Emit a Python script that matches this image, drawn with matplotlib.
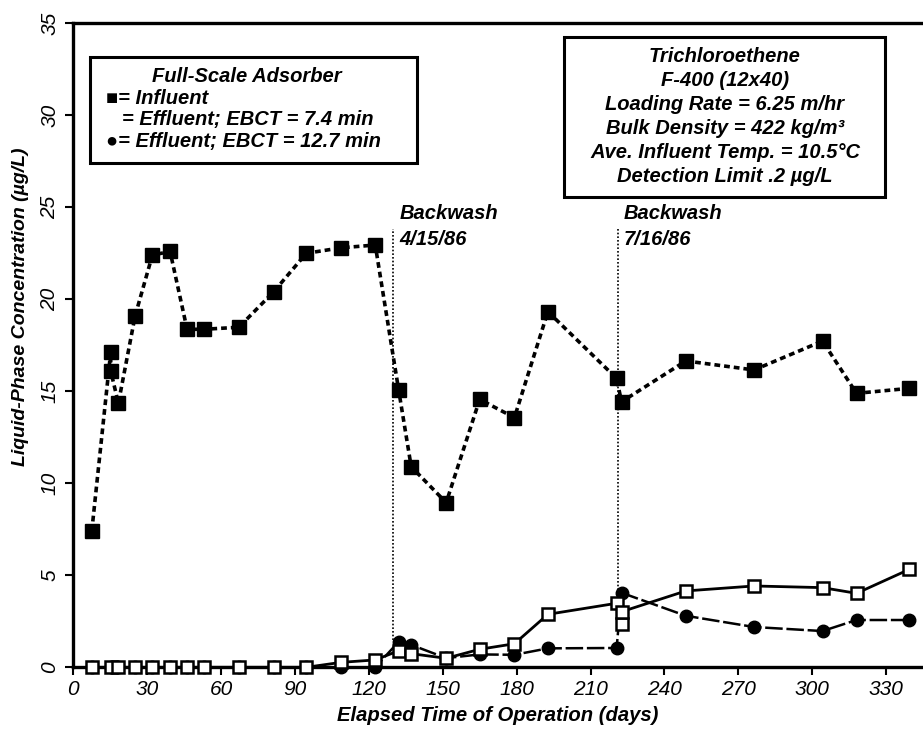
import numpy as np
import matplotlib
matplotlib.use("Agg")
import matplotlib.pyplot as plt
from matplotlib.patches import Rectangle

plt.rcParams['font.family'] = ['Liberation Sans', 'DejaVu Sans']
plt.rcParams['font.style'] = 'italic'

# influent (filled squares)
days_inf = [7.5, 15.2, 15.2, 18.3, 25.1, 32.1, 39.3, 46.2, 52.9, 67.2, 81.3, 94.6,
            108.8, 122.6, 132.1, 137.2, 151.4, 165.0, 179.1, 192.7, 220.6, 222.6,
            248.7, 276.4, 304.2, 318.0, 339.4]
influent = [7.4, 17.15, 16.1, 14.35, 19.1, 22.4, 22.6, 18.37, 18.37, 18.48, 20.4, 22.5,
            22.8, 22.95, 15.07, 10.9, 8.95, 14.56, 13.57, 19.33, 15.7, 14.43,
            16.65, 16.16, 17.73, 14.89, 15.16]

# effluent, EBCT = 7.4 min (open squares)
days_74 = [7.5, 15.2, 18.3, 25.1, 32.1, 39.3, 46.2, 52.9, 67.2, 81.3, 94.6, 108.8,
           122.6, 132.1, 137.2, 151.4, 165.0, 179.1, 192.7, 220.6, 222.6, 222.6,
           248.7, 276.4, 304.2, 318.0, 339.4]
eff_74 = [0, 0, 0, 0, 0, 0, 0, 0, 0, 0, 0, 0.27,
          0.4, 0.9, 0.74, 0.49, 0.98, 1.28, 2.88, 3.48, 2.35, 3.02,
          4.15, 4.42, 4.33, 4.02, 5.32]

# effluent, EBCT = 12.7 min (filled circles)
days_127 = [7.5, 15.2, 18.3, 25.1, 32.1, 39.3, 46.2, 52.9, 67.2, 81.3, 94.6, 108.8,
            122.6, 132.1, 137.2, 151.4, 165.0, 179.1, 192.7, 220.6, 222.6,
            248.7, 276.4, 304.2, 318.0, 339.4]
eff_127 = [0, 0, 0, 0, 0, 0, 0, 0, 0, 0, 0, 0,
           0, 1.39, 1.22, 0.5, 0.7, 0.68, 1.03, 1.05, 4.05,
           2.8, 2.19, 1.97, 2.57, 2.57]

backwash_days = [130, 221]
backwash_low = [1.5, 4.2]
backwash_text = ["Backwash\n4/15/86", "Backwash\n7/16/86"]

W, H = 923, 732
fig = plt.figure(figsize=(W / 100, H / 100), dpi=100)
ax = fig.add_axes([73.3 / W, 1 - 667.3 / H, 1 - 73.3 / W, (667.3 - 23.3) / H])

ax.plot(days_127, eff_127, color='black', lw=1.8, dashes=(7, 1.5),
        marker='o', ms=9, mfc='black', mec='black', clip_on=False, zorder=3)
ax.plot(days_74, eff_74, color='black', lw=2.0, ls='-',
        marker='s', ms=8.5, mfc='white', mec='black', mew=1.8, clip_on=False, zorder=4)
ax.plot(days_inf, influent, color='black', lw=2.6, dashes=(1.6, 1.1),
        marker='s', ms=10, mfc='black', mec='black', clip_on=False, zorder=5)

for d, lo, t in zip(backwash_days, backwash_low, backwash_text):
    ax.plot([d, d], [lo, 23.8], color='black', lw=1.2, ls=(0, (1, 1.2)), zorder=2)
    ax.text(d + 2.5, 25.2, t, fontsize=14.5, fontweight='bold', va='top', ha='left',
            linespacing=1.5)

ax.set_xlim(0, 345)
ax.set_ylim(0, 35)
ax.set_xticks(np.arange(0, 331, 30))
ax.set_yticks(np.arange(0, 36, 5))
ax.tick_params(axis='both', direction='out', length=6, width=1.5, labelsize=15)
ax.tick_params(axis='y', labelrotation=90, pad=4)
for lab in ax.get_yticklabels():
    lab.set_va('center')

for s in ['left', 'bottom', 'top']:
    ax.spines[s].set_linewidth(2.4)
ax.spines['right'].set_visible(False)

ax.set_xlabel('Elapsed Time of Operation (days)', fontsize=14.6, fontweight='bold', labelpad=5)
ax.set_ylabel('Liquid-Phase Concentration (\u00b5g/L)', fontsize=14, fontweight='bold')
ax.yaxis.set_label_coords(-0.052, 0.56)


def fx(px):
    return px / W


def fy(py):
    return 1 - py / H


fs_box = 14.5

# legend box
fig.patches.append(Rectangle((fx(90), fy(163)), fx(417) - fx(90), fy(57) - fy(163),
                             transform=fig.transFigure, fill=False, lw=2.2, ec='black'))
fig.text(fx(247), fy(77), 'Full-Scale Adsorber', fontsize=fs_box, fontweight='bold',
         ha='center', va='center')
fig.text(fx(106), fy(98), '\u25a0= Influent', fontsize=fs_box, fontweight='bold',
         ha='left', va='center')
fig.text(fx(122), fy(120), '= Effluent; EBCT = 7.4 min', fontsize=fs_box, fontweight='bold',
         ha='left', va='center')
fig.text(fx(106), fy(142), '\u25cf= Effluent; EBCT = 12.7 min', fontsize=fs_box,
         fontweight='bold', ha='left', va='center')

# info box
fig.patches.append(Rectangle((fx(564), fy(197)), fx(885) - fx(564), fy(37) - fy(197),
                             transform=fig.transFigure, fill=False, lw=2.2, ec='black'))
info = ["Trichloroethene", "F-400 (12x40)", "Loading Rate = 6.25 m/hr",
        "Bulk Density = 422 kg/m\u00b3", "Ave. Influent Temp. = 10.5\u00b0C",
        "Detection Limit .2 \u00b5g/L"]
for i, line in enumerate(info):
    fig.text(fx(725), fy(56 + i * 24.2), line, fontsize=fs_box, fontweight='bold',
             ha='center', va='center')

fig.savefig('out.png', dpi=100)
